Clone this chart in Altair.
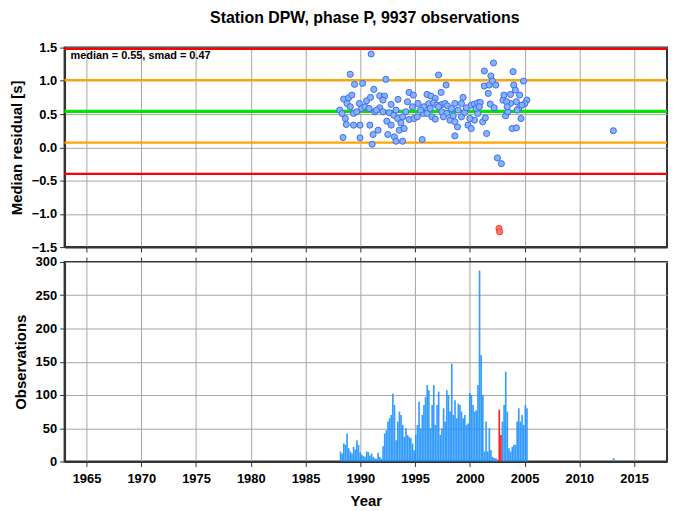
import altair as alt
import pandas as pd

TITLE = "Station DPW, phase P, 9937 observations"
STATS = "median = 0.55, smad = 0.47"

# residual medians (blue points)
res_year = [1990.99, 1989.08, 1989.47, 1990.21, 1992.33, 1991.23, 1988.48, 1988.93, 1989.23, 1988.78,
            1989.91, 1990.57, 1990.93, 1991.77, 1992.21, 1992.06, 1992.81, 1993.44, 1994.45, 1994.84,
            1994.30, 1995.26, 1996.09, 1996.45, 1997.14, 1997.83, 1997.38, 1996.84, 1996.24, 1996.69,
            1996.99, 1997.44, 1997.74, 1997.95, 1998.63, 1999.23, 1999.38, 2000.13, 2000.42, 2000.72,
            2000.96, 2001.32, 2001.68, 2001.77, 2001.92, 2002.07, 2002.16, 2002.37, 2001.32, 2001.86,
            2002.22, 2003.02, 2003.11, 2003.71, 2003.95, 2004.01, 2004.16, 2004.54, 2004.90, 2005.20,
            2005.02, 2004.25, 2003.71, 2003.35, 1988.12, 1988.33, 1988.63, 1989.38, 1989.67, 1990.12,
            1990.42, 1990.81, 1991.32, 1991.77, 1992.06, 1992.66, 1993.05, 1993.41, 1993.86, 1994.15,
            1994.45, 1994.90, 1995.20, 1995.74, 1996.09, 1996.54, 1996.84, 1997.44, 1997.89, 1998.19,
            1998.48, 1998.87, 1999.23, 1999.53, 1999.83, 2000.13, 2000.42, 2000.72, 2001.17, 2001.41,
            2003.26, 2003.47, 2003.86, 2004.25, 2004.67, 2004.46, 1988.72, 1989.38, 1989.97, 1990.87,
            1991.62, 1991.17, 1992.42, 1992.81, 1993.56, 1994.00, 1993.11, 1993.26, 1993.86, 1995.65,
            1992.51, 1988.42, 1989.97, 1991.08, 1998.63, 2001.53, 2002.52, 2002.88, 1995.80, 1996.39,
            1997.14, 1998.33, 1998.93, 1999.68, 2000.57, 2000.87, 2003.41, 2004.31, 2004.76, 1989.08,
            1991.47, 1993.26, 1994.75, 1995.50, 1997.59, 2000.00, 1998.63, 1993.71, 2013.10]
res_value = [1.404, 1.098, 0.947, 0.962, 1.022, 0.872, 0.726, 0.746, 0.786, 0.660,
             0.660, 0.700, 0.751, 0.776, 0.771, 0.711, 0.645, 0.721, 0.826, 0.786,
             0.686, 0.660, 0.796, 0.771, 1.088, 0.937, 0.826, 0.736, 0.655, 0.670,
             0.635, 0.645, 0.660, 0.625, 0.660, 0.660, 0.751, 0.635, 0.650, 0.670,
             0.675, 0.922, 0.811, 0.937, 1.073, 0.997, 1.269, 0.937, 1.148, 0.650,
             0.595, 0.711, 0.786, 0.796, 1.138, 0.937, 0.861, 0.786, 0.997, 0.711,
             0.660, 0.686, 0.660, 0.686, 0.560, 0.510, 0.434, 0.510, 0.535, 0.585,
             0.610, 0.585, 0.535, 0.595, 0.535, 0.520, 0.484, 0.434, 0.459, 0.535,
             0.419, 0.434, 0.459, 0.510, 0.510, 0.459, 0.424, 0.535, 0.510, 0.409,
             0.474, 0.308, 0.459, 0.525, 0.334, 0.283, 0.409, 0.510, 0.384, 0.444,
             0.474, 0.535, 0.283, 0.293, 0.434, 0.585, 0.344, 0.334, 0.334, 0.334,
             0.258, 0.193, 0.394, 0.334, 0.258, 0.283, 0.158, 0.092, 0.092, 0.117,
             0.193, 0.148, 0.143, 0.047, 0.173, 0.208, -0.159, -0.245, 0.610, 0.585,
             0.610, 0.585, 0.560, 0.595, 0.585, 0.610, 0.610, 0.560, 0.635, 0.610,
             0.560, 0.560, 0.610, 0.560, 0.459, 0.434, 0.384, 0.369, 0.250]

# outliers (red points)
out_year = [2002.66, 2002.72]
out_value = [-1.22, -1.27]

# observation counts per bin
bar_first = 1988.12
bar_width = 0.1493
bar_counts = [15, 12, 27, 25, 42, 20, 15, 12, 22, 18,
              32, 25, 14, 10, 8, 7, 15, 14, 9, 12,
              7, 5, 4, 13, 7, 4, 23, 42, 47, 60,
              65, 70, 102, 85, 32, 60, 75, 70, 55, 37,
              50, 40, 37, 35, 27, 17, 40, 55, 90, 50,
              70, 85, 97, 115, 107, 50, 85, 115, 55, 85,
              105, 40, 50, 80, 60, 107, 100, 75, 147, 70,
              92, 65, 87, 85, 75, 65, 70, 55, 57, 103,
              100, 85, 75, 77, 115, 287, 160, 100, 15, 60,
              15, 50, 17, 7, 5, 5, 3, 0, 0, 60,
              85, 135, 75, 20, 15, 22, 25, 25, 60, 80,
              60, 70, 55, 85, 80]
late_bar_year = [2013.05]
late_bar_count = [5]
red_bar_year = [2002.61, 2002.76]
red_bar_count = [78, 40]

line_values = [1.48, 1.01, 0.54, 0.07, -0.40]
line_colors = ["#FF0000", "#FFA500", "#00E600", "#FFA500", "#FF0000"]
line_widths = [2.4, 2.2, 3.2, 2.2, 2.2]

year_ticks = list(range(1965, 2016, 5))
res_ticks = [-1.5, -1.0, -0.5, 0.0, 0.5, 1.0, 1.5]
obs_ticks = [0, 50, 100, 150, 200, 250, 300]

X_DOMAIN = [1963, 2018]
W = 607
H = 201
FONT = "Liberation Sans"

# ---------- data frames
pts = pd.DataFrame({"year": res_year, "res": res_value})
outl = pd.DataFrame({"year": out_year, "res": out_value})
lines = pd.DataFrame({"res": line_values, "color": line_colors, "w": line_widths})

bars = pd.DataFrame({
    "year": [bar_first + i * bar_width for i in range(len(bar_counts))] + late_bar_year,
    "n": bar_counts + late_bar_count,
})
bars["year2"] = bars["year"] + bar_width
bars["base"] = 0
rbars = pd.DataFrame({"year": red_bar_year, "n": red_bar_count})
rbars["year2"] = rbars["year"] + bar_width
rbars["base"] = 0

xs = alt.Scale(domain=X_DOMAIN, nice=False, zero=False)
ys_top = alt.Scale(domain=[-1.5, 1.5], nice=False, zero=False)
ys_bot = alt.Scale(domain=[0, 300], nice=False, zero=False)

x_top_axis = alt.Axis(values=year_ticks, labels=False, title=None, grid=True, ticks=True)
y_top_axis = alt.Axis(values=res_ticks, format=".1f", title="Median residual [s]", grid=True,
                      labelOverlap=False)

rules = alt.Chart(lines).mark_rule().encode(
    y=alt.Y("res:Q", scale=ys_top, axis=y_top_axis),
    color=alt.Color("color:N", scale=None),
    strokeWidth=alt.StrokeWidth("w:Q", scale=None),
)
points = alt.Chart(pts).mark_point(
    shape="circle", filled=True, size=38, fill="#86B3FF", stroke="#3F6BEA", strokeWidth=1, opacity=1
).encode(
    x=alt.X("year:Q", scale=xs, axis=x_top_axis),
    y=alt.Y("res:Q", scale=ys_top, axis=y_top_axis),
)
outliers = alt.Chart(outl).mark_point(
    shape="circle", filled=True, size=38, fill="#FF7A6E", stroke="#E8402F", strokeWidth=1, opacity=1
).encode(
    x=alt.X("year:Q", scale=xs, axis=x_top_axis),
    y=alt.Y("res:Q", scale=ys_top, axis=y_top_axis),
)
label = alt.Chart(pd.DataFrame({"t": [STATS]})).mark_text(
    align="left", baseline="middle", font=FONT, fontWeight="bold", fontSize=11, color="black"
).encode(x=alt.value(6), y=alt.value(8), text="t:N")

top = alt.layer(rules, points, outliers, label).properties(width=W, height=H)

x_bot_axis = alt.Axis(values=year_ticks, format="d", title="Year", grid=True, ticks=True,
                      labelOverlap=False, labelPadding=6, titlePadding=8)
x_topticks = alt.Axis(values=year_ticks, orient="top", labels=False, title=None, grid=False, domain=False)
y_bot_axis = alt.Axis(values=obs_ticks, title="Observations", grid=True, labelOverlap=False)

blue = alt.Chart(bars).mark_bar(color="#1E90FF", opacity=0.9, strokeWidth=0).encode(
    x=alt.X("year:Q", scale=xs, axis=x_bot_axis),
    x2="year2:Q",
    y=alt.Y("n:Q", scale=ys_bot, axis=y_bot_axis),
    y2="base:Q",
)
red = alt.Chart(rbars).mark_bar(color="#FF2020", strokeWidth=0).encode(
    x=alt.X("year:Q", scale=xs, axis=x_topticks),
    x2="year2:Q",
    y=alt.Y("n:Q", scale=ys_bot, axis=y_bot_axis),
    y2="base:Q",
)
bottom = alt.layer(blue, red).resolve_axis(x="independent").properties(width=W, height=H)

chart = alt.vconcat(top, bottom, spacing=0).properties(
    title=alt.TitleParams(TITLE, font=FONT, fontSize=16, fontWeight="bold", anchor="middle",
                          color="black", offset=15, dx=26),
    padding={"left": 0, "top": 0, "right": 0, "bottom": 0},
    background="white",
).configure_axis(
    labelFont=FONT, labelFontWeight="bold", labelFontSize=13, labelColor="black",
    titleFont=FONT, titleFontWeight="bold", titleFontSize=15, titleColor="black",
    domainColor="#333333", domainWidth=2, tickColor="#333333", tickSize=5, tickWidth=1,
    gridColor="#A6A6A6", gridWidth=1, labelPadding=3, titlePadding=7,
).configure_view(stroke="#333333", strokeWidth=2)

chart.save("out.html", embed_options={"renderer": "svg", "actions": False})
